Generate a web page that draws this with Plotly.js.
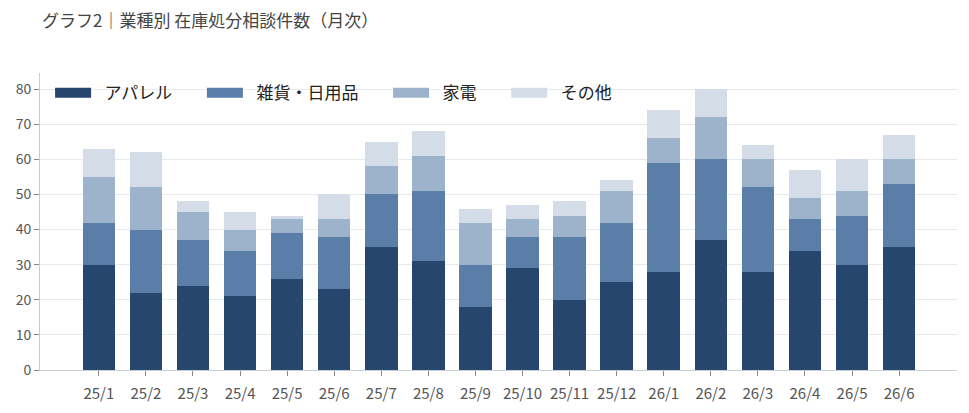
<!DOCTYPE html>
<html>
<head>
<meta charset="utf-8">
<script src="https://cdn.plot.ly/plotly-3.0.1.min.js"></script>
<style>
  html, body { margin: 0; padding: 0; background: #fff; }
  #chart { width: 969px; height: 413px; }
</style>
</head>
<body>
<div id="chart"></div>
<script>
// 月（カテゴリ）
var months = ['25/1', '25/2', '25/3', '25/4', '25/5', '25/6', '25/7', '25/8', '25/9',
              '25/10', '25/11', '25/12', '26/1', '26/2', '26/3', '26/4', '26/5', '26/6'];

// 業種別件数
var apparel = [30, 22, 24, 21, 26, 23, 35, 31, 18, 29, 20, 25, 28, 37, 28, 34, 30, 35];
var zakka   = [12, 18, 13, 13, 13, 15, 15, 20, 12,  9, 18, 17, 31, 23, 24,  9, 14, 18];
var kaden   = [13, 12,  8,  6,  4,  5,  8, 10, 12,  5,  6,  9,  7, 12,  8,  6,  7,  7];
var other   = [ 8, 10,  3,  5,  1,  7,  7,  7,  4,  4,  4,  3,  8,  8,  4,  8,  9,  7];

var names  = ['アパレル', '雑貨・日用品', '家電', 'その他'];
var series = [apparel, zakka, kaden, other];
var colors = ['#27466e', '#5b7ea8', '#9db3cc', '#d3dce7'];

var FONT = '"Noto Sans CJK JP", "Noto Sans", sans-serif';

// 凡例の間隔調整用（en space / four-per-em space / thin space）
var SP = '\u2002';
var SP4 = '\u2005';
var THIN = '\u2009';

var traces = [];
// 棒グラフ本体（凡例は非表示）
for (var i = 0; i < series.length; i++) {
    traces.push({
        type: 'bar',
        x: months,
        y: series[i],
        name: names[i],
        marker: { color: colors[i], line: { width: 0 } },
        showlegend: false,
        hoverinfo: 'x+y+name'
    });
}
// 凡例用のダミー（横長の色見本を出すため）
for (var j = 0; j < series.length; j++) {
    traces.push({
        type: 'scatter',
        mode: 'lines',
        x: [null],
        y: [null],
        name: SP + names[j] + SP + SP + SP4 + THIN,
        line: { color: colors[j], width: 12 },
        showlegend: true,
        hoverinfo: 'skip'
    });
}

var layout = {
    width: 969,
    height: 413,
    margin: { l: 40, r: 12, t: 73, b: 43 },
    paper_bgcolor: '#fff',
    plot_bgcolor: '#fff',
    font: { family: FONT, color: '#555', size: 14 },
    title: {
        text: 'グラフ2｜業種別 在庫処分相談件数（月次）',
        x: 0, xref: 'paper', xanchor: 'left',
        y: 0.95, yref: 'container', yanchor: 'middle',
        pad: { l: 2 },
        font: { family: FONT, size: 17, color: '#444' }
    },
    barmode: 'stack',
    bargap: 0.31,
    showlegend: true,
    legend: {
        orientation: 'h',
        traceorder: 'normal',
        x: 0.011, xanchor: 'left',
        y: 0.993, yanchor: 'top',
        bgcolor: 'rgba(0,0,0,0)',
        itemwidth: 36,
        font: { family: FONT, size: 17, color: '#222' }
    },
    xaxis: {
        type: 'category',
        range: [-1.25, 18.23],
        showgrid: false,
        showline: true,
        linecolor: '#c8ced6',
        linewidth: 1,
        ticks: 'outside',
        ticklen: 5,
        tickcolor: '#888',
        ticklabelstandoff: 5,
        tickfont: { family: FONT, size: 15, color: '#555' },
        fixedrange: true
    },
    yaxis: {
        range: [0, 84.6],
        dtick: 10,
        showgrid: true,
        gridcolor: '#e6e9ee',
        zeroline: false,
        showline: true,
        linecolor: '#c8ced6',
        linewidth: 1,
        ticks: 'outside',
        ticklen: 5,
        tickcolor: '#888',
        tickfont: { family: FONT, size: 14, color: '#555' },
        fixedrange: true
    }
};

Plotly.newPlot('chart', traces, layout, { displayModeBar: false, staticPlot: true });
</script>
</body>
</html>
